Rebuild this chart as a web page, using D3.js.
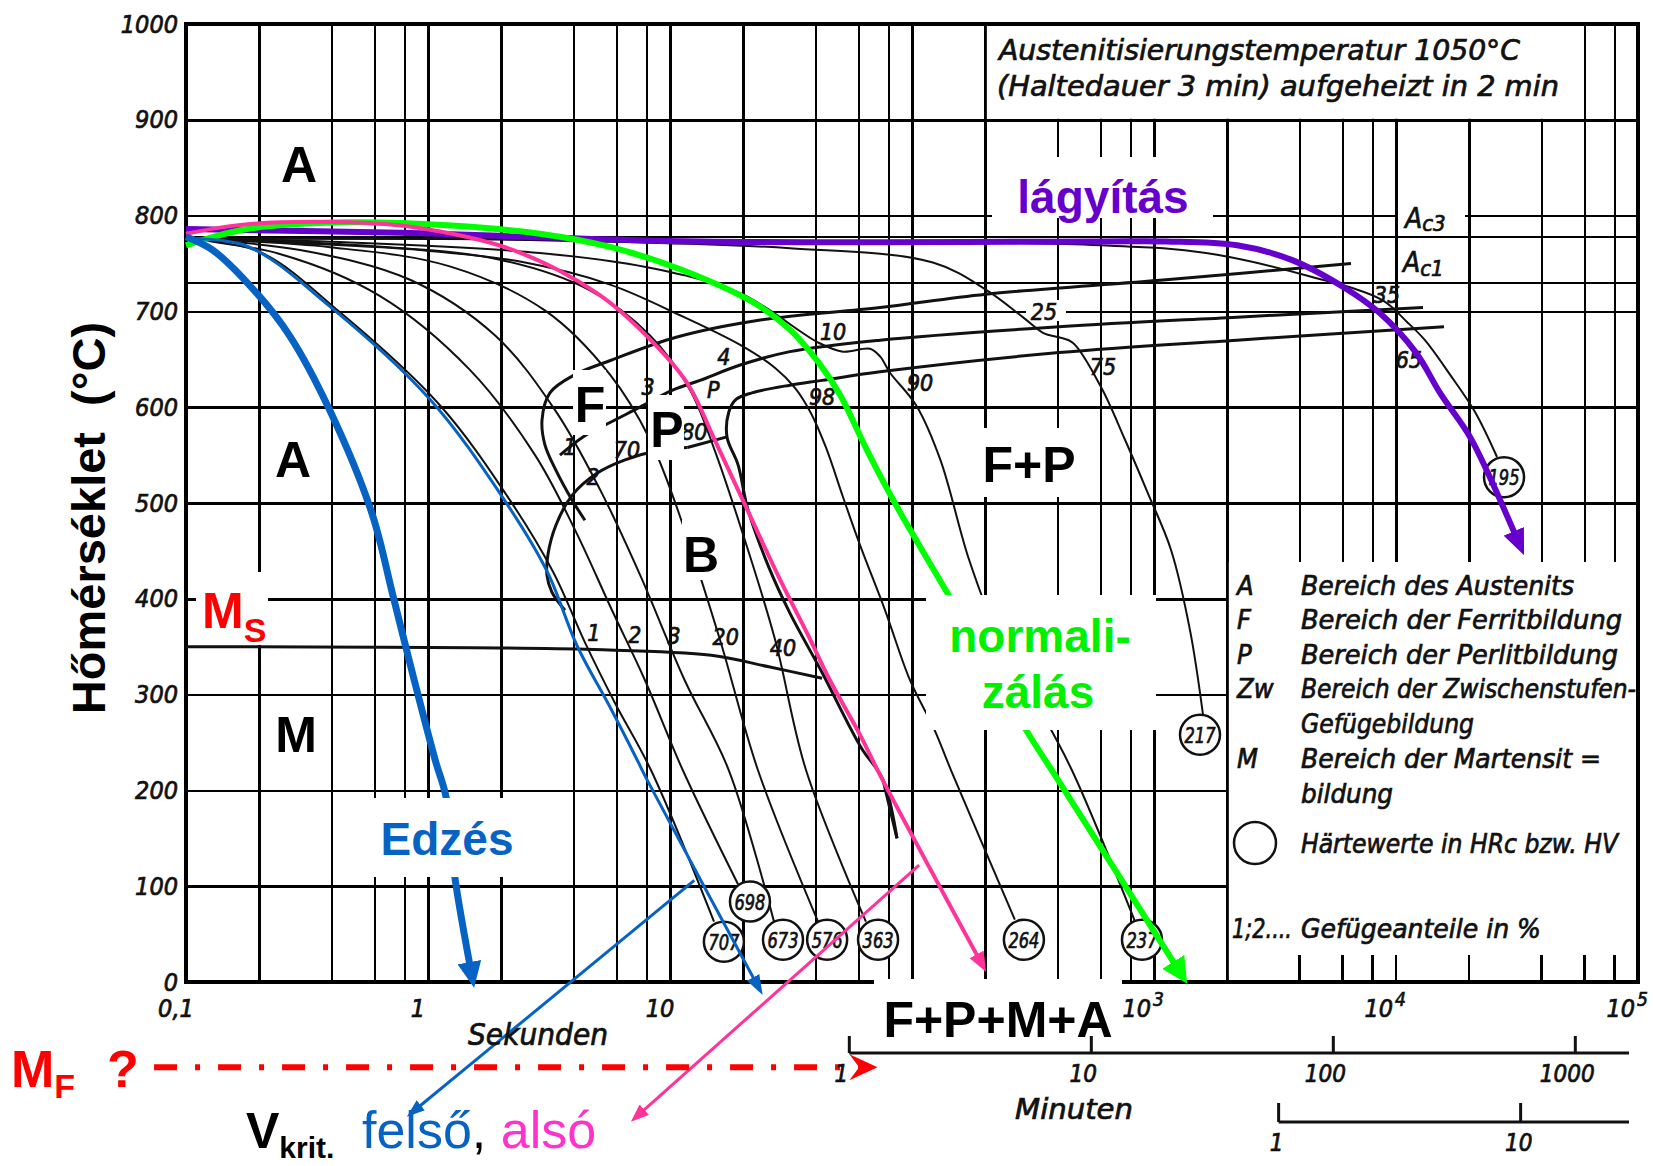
<!DOCTYPE html>
<html>
<head>
<meta charset="utf-8">
<script src="https://cdn.jsdelivr.net/npm/d3@7"></script>
<style>
  body { margin: 0; background: #fff; }
  .scan { font-family: "DejaVu Sans Condensed", "DejaVu Sans", sans-serif; font-style: italic; fill: #111; stroke: #111; stroke-width: 0.7px; }
  .big { font-family: "Liberation Sans", Arial, sans-serif; font-weight: bold; }
  .grid line { stroke: #000; stroke-width: 2.5; shape-rendering: crispEdges; }
  .cool { fill: none; stroke: #111; stroke-width: 2; }
  .trans { fill: none; stroke: #111; stroke-width: 3; }
</style>
</head>
<body>
<svg id="chart"></svg>
<script>
// ---- axis values ----
const tempTicks = [0, 100, 200, 300, 400, 500, 600, 700, 800, 900, 1000];
const tempGrid = [100, 200, 300, 400, 500, 600, 700, 730, 778, 800, 900];
const secLabels = [
  {v: 0.1, base: "0,1"}, {v: 1, base: "1"}, {v: 10, base: "10"},
  {v: 1000, base: "10", exp: "3"}, {v: 1e4, base: "10", exp: "4"}, {v: 1e5, base: "10", exp: "5"}
];
const minuteTicks = [1, 10, 100, 1000];
const hourTicks = [1, 10];

// ---- cooling curves [seconds, °C] ----
const cool707 = [[0.1,776],[0.202,762],[0.433,699],[1.12,602],[2.18,503],[3.29,428],[4.46,354],[5.93,291],[8.35,221],[15.2,63]];
const cool698 = [[0.1,776],[0.244,760],[0.634,716],[1.49,639],[2.77,550],[4.05,472],[5.76,388],[7.88,315],[11.3,221],[19.1,102]];
const cool673 = [[0.1,776],[0.296,764],[0.843,733],[1.89,675],[3.35,597],[5.14,514],[7.52,425],[11.5,315],[17.5,221],[26.9,63]];
const cool576 = [[0.1,776],[0.394,767],[1.23,747],[3.04,701],[5.65,634],[8.27,566],[11.5,472],[16.1,357],[23.1,221],[40.9,63]];
const cool363 = [[0.1,776],[0.524,769],[1.98,754],[4.67,722],[8.27,675],[12.1,618],[15.3,555],[20.4,461],[27.2,357],[36.5,221],[64.5,63]];
const cool264 = [[0.1,776],[0.296,771],[0.927,764],[2.40,752],[5.65,728],[11.0,696],[19.5,665],[27.2,641],[32.9,620],[38.2,594],[44.1,558],[51.9,506],[61.0,456],[77.4,388],[98.1,315],[124,263],[145,221],[266,65]];
const cool237 = [[0.1,776],[0.476,772],[2.90,761],[8.04,746],[19.5,719],[41.3,667],[51.9,658],[67.0,661],[73.8,653],[81.1,636],[104,602],[131,545],[172,441],[231,357],[338,284],[458,221],[835,63]];
const cool217 = [[0.1,776],[1.98,775],[31.3,766],[122,751],[204,722],[287,694],[351,677],[405,673],[463,667],[604,621],[759,566],[944,510],[1176,451],[1409,367],[1594,279]];
const cool195 = [[0.1,776],[5.14,775],[598,769],[1640,761],[4499,736],[8750,712],[11100,689],[13170,670],[16720,634],[21210,595],[26150,548]];

// ---- transformation lines ----
const ferriteStart = [[6516,750],[1122,733],[202,718],[73.8,704],[23.6,691],[10.6,673],[5.71,649],[4.05,634],[3.19,615],[2.96,587],[3.04,561],[3.38,534],[3.94,503],[4.45,482]];
const pearliteStart = [[12930,704],[2203,694],[405,684],[73.8,670],[31.3,658],[19.5,644],[13.3,628],[10.3,618],[7.52,600],[5.65,584],[4.37,569],[3.51,550]];
const pearliteEnd = [[15790,684],[2203,670],[405,657],[73.8,637],[42.5,628],[31.3,623],[21.8,615],[18.7,608],[17.5,595],[17.2,569],[19.1,540],[21.0,493],[25.6,433],[31.3,385],[42.5,323],[61.5,245],[75.9,211],[86.7,150]];
const pearliteStep = [[11.8,558],[17.2,569]];
const bainiteStart = [[11.8,558],[9.09,555],[6.52,545],[4.99,531],[3.94,508],[3.38,477],[3.13,446],[3.10,425],[3.25,407],[3.68,388]];
const bainiteStub = [[75.9,211],[86.7,150]];
const msLine = [[0.1,350],[4.85,347],[14.8,341],[25.6,329],[42.5,317]];

// ---- coloured treatment paths ----
const edzes = [[0.1,778],[0.129,764],[0.196,719],[0.269,674],[0.394,596],[0.587,489],[0.717,403],[0.867,320],[1.07,232],[1.19,192],[1.29,110],[1.53,2]];
const vkritFelso = [[0.1,776],[0.179,768],[0.394,705],[1.02,608],[2.02,507],[3.10,429],[4.13,351],[5.65,287],[7.31,232],[8.04,211],[23.5,-8]];
const vkritAlso = [[0.1,781],[0.152,789],[0.244,793],[0.476,793],[0.867,788],[2.25,764],[4.99,719],[8.04,674],[11.8,625],[15.1,569],[20.6,496],[28.5,420],[37.2,362],[45.8,315],[61.0,258],[73.8,216],[197,16]];
const normalizalas = [[0.1,769],[0.179,786],[0.463,793],[1.20,790],[2.90,781],[5.71,767],[11.3,743],[22.2,709],[31.3,681],[41.3,646],[50.4,613],[65.2,555],[86.7,496],[140,406],[296,263],[401,211],[1318,5]];
const lagyitas = [[0.1,786],[0.766,782],[13.3,773],[598,773],[1121,773],[2203,769],[3683,754],[6099,725],[8590,698],[12090,657],[15200,615],[20220,569],[24010,531],[32850,453]];
const pointerFelso = [[12.6,106],[0.851,-137]];
const pointerAlso = [[107,122],[7.16,-142]];
const mfLine = [[0.0738,-89],[66.4,-89]];

// ---- hardness values and fraction labels ----
const hardness = [
  {v:"707", t:16.7, T:42}, {v:"698", t:21.4, T:84}, {v:"673", t:29.3, T:44},
  {v:"576", t:44.6, T:44}, {v:"363", t:72.4, T:44}, {v:"264", t:290, T:44},
  {v:"237", t:892, T:44}, {v:"217", t:1549, T:258}, {v:"195", t:27950, T:527}
];
const fractionLabels = [
  {s:"1", t:3.86, T:558}, {s:"2", t:4.81, T:527}, {s:"70", t:6.64, T:555},
  {s:"3", t:8.11, T:621}, {s:"P", t:15.1, T:618}, {s:"80", t:12.6, T:574},
  {s:"4", t:16.7, T:652}, {s:"10", t:47.2, T:679}, {s:"98", t:42.5, T:611},
  {s:"90", t:108, T:625}, {s:"25", t:351, T:699}, {s:"75", t:615, T:642},
  {s:"35", t:9180, T:717}, {s:"65", t:11300, T:649},
  {s:"1", t:4.85, T:364}, {s:"2", t:7.16, T:362}, {s:"3", t:10.4, T:361},
  {s:"20", t:17.0, T:360}, {s:"40", t:29.3, T:349}
];
const legendRows = [
  ["A", "Bereich des Austenits", 273],
  ["F", "Bereich der Ferritbildung", 321],
  ["P", "Bereich der Perlitbildung", 317],
  ["Zw", "Bereich der Zwischenstufen-", 335],
  ["", "Gefügebildung", 173],
  ["M", "Bereich der Martensit =", 300],
  ["", "bildung", 92]
];

const W = 1653, H = 1166;
const svg = d3.select("#chart").attr("width", W).attr("height", H);
const x = d3.scaleLog().domain([0.1, 1e5]).range([186, 1638]);
const y = d3.scaleLinear().domain([0, 1000]).range([982, 24]);
const smooth = d3.line().x(d => x(d[0])).y(d => y(d[1])).curve(d3.curveCatmullRom.alpha(0.5));
const straight = d3.line().x(d => x(d[0])).y(d => y(d[1]));

// arrow markers
const defs = svg.append("defs");
function marker(id, color, len, wid, notch) {
  defs.append("marker").attr("id", id).attr("viewBox", "0 0 10 10")
    .attr("refX", 7).attr("refY", 5).attr("markerUnits", "userSpaceOnUse")
    .attr("markerWidth", len).attr("markerHeight", wid).attr("orient", "auto")
    .attr("preserveAspectRatio", "none")
    .append("path").attr("d", notch ? "M0,0 L10,5 L0,10 L3.5,5 z" : "M0,0 L10,5 L0,10 z").attr("fill", color);
}
marker("arBlueThick", "#0663c4", 26, 24);
marker("arBlue", "#0663c4", 20, 14);
marker("arPink", "#ff3399", 20, 16);
marker("arGreen", "#00ff00", 26, 26);
marker("arPurple", "#6600cc", 26, 22);
marker("arPtrBlue", "#0663c4", 18, 13);
marker("arPtrPink", "#ff3399", 18, 14);
marker("arRed", "#ff0000", 28, 26, true);

// grid
const gridSec = [];
[0.1, 1, 10, 100, 1000, 10000].forEach(d => [2, 4, 6, 8].forEach(m => gridSec.push(d * m)));
[1, 10, 100, 1000, 10000].forEach(d => gridSec.push(d));
svg.append("g").attr("class", "grid").attr("transform", `translate(0,${y(0)})`)
  .call(d3.axisBottom(x).tickValues(gridSec).tickSize(-(y(0) - y(1000))).tickFormat(""))
  .call(g => g.select(".domain").remove());
svg.append("g").attr("class", "grid").attr("transform", `translate(${x(0.1)},0)`)
  .call(d3.axisLeft(y).tickValues(tempGrid).tickSize(-(x(1e5) - x(0.1))).tickFormat(""))
  .call(g => g.select(".domain").remove());

// white areas for info box, legend and small gridline labels
const bg = svg.append("g").attr("fill", "#fff");
bg.append("rect").attr("x", x(200) + 2).attr("y", y(1000) + 2).attr("width", x(60000) - x(200) - 4).attr("height", y(900) - y(1000) - 3);
bg.append("rect").attr("x", x(2000) + 2).attr("y", 562).attr("width", x(1e5) - x(2000) - 4).attr("height", y(0) - 562 - 1);
bg.append("rect").attr("x", 1398).attr("y", 200).attr("width", 67).attr("height", 32);
bg.append("rect").attr("x", 1026).attr("y", 300).attr("width", 40).attr("height", 21);

// short ticks at bottom of legend box
const stubs = svg.append("g").attr("stroke", "#000").attr("stroke-width", 2.5).attr("shape-rendering", "crispEdges");
[4000, 6000, 8000, 10000, 20000, 40000, 60000, 80000].forEach(v => {
  stubs.append("line").attr("x1", x(v)).attr("x2", x(v)).attr("y1", 955).attr("y2", y(0));
});

// frame
svg.append("rect").attr("x", x(0.1)).attr("y", y(1000)).attr("width", x(1e5) - x(0.1))
  .attr("height", y(0) - y(1000)).attr("fill", "none").attr("stroke", "#000").attr("stroke-width", 3.5)
  .attr("shape-rendering", "crispEdges");

// black cooling curves
const cg = svg.append("g");
[cool707, cool698, cool673, cool576, cool363, cool264, cool237, cool217, cool195].forEach(c => {
  cg.append("path").attr("class", "cool").attr("d", smooth(c));
});
[ferriteStart, pearliteStart, pearliteEnd, bainiteStart, msLine].forEach(c => {
  cg.append("path").attr("class", "trans").attr("d", smooth(c));
});
cg.append("path").attr("class", "trans").attr("d", straight(pearliteStep));
cg.append("path").attr("class", "trans").attr("stroke-width", 5).attr("d", straight(bainiteStub));

// fraction labels
svg.append("g").selectAll("text").data(fractionLabels).join("text")
  .attr("class", "scan").attr("x", d => x(d.t)).attr("y", d => y(d.T))
  .attr("text-anchor", "middle").attr("dominant-baseline", "central")
  .style("font-size", "23px").text(d => d.s);

// Ac labels
const ac = svg.append("g");
ac.append("text").attr("class", "scan").attr("x", 1405).attr("y", 228).style("font-size", "28px")
  .text("A").append("tspan").style("font-size", "22px").attr("dy", 3).text("c3");
ac.append("text").attr("class", "scan").attr("x", 1403).attr("y", 272).style("font-size", "28px")
  .text("A").append("tspan").style("font-size", "22px").attr("dy", 4).text("c1");

// hardness circles
const hg = svg.append("g").selectAll("g").data(hardness).join("g")
  .attr("transform", d => `translate(${x(d.t)},${y(d.T)})`);
hg.append("circle").attr("r", 20).attr("fill", "#fff").attr("stroke", "#111").attr("stroke-width", 2.5);
hg.append("text").attr("class", "scan").attr("text-anchor", "middle").attr("dy", 8)
  .attr("textLength", 31).attr("lengthAdjust", "spacingAndGlyphs").style("font-size", "22px").text(d => d.v);

// coloured paths
const col = svg.append("g").attr("fill", "none");
col.append("path").attr("d", smooth(lagyitas)).attr("stroke", "#6600cc").attr("stroke-width", 6).attr("marker-end", "url(#arPurple)");
col.append("path").attr("d", smooth(normalizalas)).attr("stroke", "#00ff00").attr("stroke-width", 6).attr("marker-end", "url(#arGreen)");
col.append("path").attr("d", smooth(vkritAlso)).attr("stroke", "#ff3399").attr("stroke-width", 4).attr("marker-end", "url(#arPink)");
col.append("path").attr("d", smooth(vkritFelso)).attr("stroke", "#0663c4").attr("stroke-width", 3).attr("marker-end", "url(#arBlue)");
col.append("path").attr("d", smooth(edzes)).attr("stroke", "#0663c4").attr("stroke-width", 7).attr("marker-end", "url(#arBlueThick)");
col.append("path").attr("d", straight(pointerFelso)).attr("stroke", "#0663c4").attr("stroke-width", 3).attr("marker-end", "url(#arPtrBlue)");
col.append("path").attr("d", straight(pointerAlso)).attr("stroke", "#ff3399").attr("stroke-width", 3).attr("marker-end", "url(#arPtrPink)");
col.append("path").attr("d", straight(mfLine)).attr("stroke", "#ff0000").attr("stroke-width", 6)
  .attr("stroke-dasharray", "23,18,5,18").attr("marker-end", "url(#arRed)");

// white label boxes
const boxes = [[196,572,72,73],[573,370,33,65],[648,395,36,65],[682,520,38,60],[975,428,110,69],
  [926,595,230,135],[370,798,155,79],[992,157,221,61],[874,979,248,66]];
svg.append("g").selectAll("rect").data(boxes).join("rect")
  .attr("x", d => d[0]).attr("y", d => d[1]).attr("width", d => d[2]).attr("height", d => d[3]).attr("fill", "#fff");

// axis tick labels
svg.append("g").attr("transform", `translate(${x(0.1)},0)`)
  .call(d3.axisLeft(y).tickValues(tempTicks).tickSize(0).tickPadding(8).tickFormat(d3.format("d")))
  .call(g => g.select(".domain").remove())
  .selectAll("text").attr("class", "scan").style("font-size", "25px");
const xl = svg.append("g");
secLabels.forEach(d => {
  if (d.exp) {
    xl.append("text").attr("class", "scan").attr("x", x(d.v) - 3).attr("y", 1017)
      .attr("text-anchor", "end").style("font-size", "25px").text(d.base);
    xl.append("text").attr("class", "scan").attr("x", x(d.v) - 1).attr("y", 1006)
      .style("font-size", "19px").text(d.exp);
  } else {
    xl.append("text").attr("class", "scan").attr("x", x(d.v) - 10).attr("y", 1017)
      .attr("text-anchor", "middle").style("font-size", "25px").text(d.base);
  }
});
xl.append("text").attr("class", "scan").attr("x", 468).attr("y", 1045).style("font-size", "30px")
  .attr("textLength", 140).attr("lengthAdjust", "spacingAndGlyphs").text("Sekunden");

// minutes and hours scales
const mg = svg.append("g").attr("transform", "translate(-9,0)");
mg.append("line").attr("x1", x(60)).attr("x2", 1638).attr("y1", 1053).attr("y2", 1053).attr("stroke", "#111").attr("stroke-width", 3);
minuteTicks.forEach(m => {
  mg.append("line").attr("x1", x(m * 60)).attr("x2", x(m * 60)).attr("y1", 1036).attr("y2", 1053).attr("stroke", "#111").attr("stroke-width", 3);
  mg.append("text").attr("class", "scan").attr("x", x(m * 60) - 8).attr("y", 1082)
    .attr("text-anchor", "middle").style("font-size", "24px").text(m);
});
mg.append("text").attr("class", "scan").attr("x", 1024).attr("y", 1119).style("font-size", "28px")
  .attr("textLength", 118).attr("lengthAdjust", "spacingAndGlyphs").text("Minuten");
const hgp = svg.append("g").attr("transform", "translate(-10,0)");
hgp.append("line").attr("x1", x(3600)).attr("x2", 1639).attr("y1", 1122).attr("y2", 1122).attr("stroke", "#111").attr("stroke-width", 3);
hourTicks.forEach(h => {
  hgp.append("line").attr("x1", x(h * 3600)).attr("x2", x(h * 3600)).attr("y1", 1103).attr("y2", 1122).attr("stroke", "#111").attr("stroke-width", 3);
  hgp.append("text").attr("class", "scan").attr("x", x(h * 3600) - 2).attr("y", 1151)
    .attr("text-anchor", "middle").style("font-size", "24px").text(h);
});

// info box text
svg.append("text").attr("class", "scan").attr("x", 999).attr("y", 60).style("font-size", "29px")
  .attr("textLength", 521).attr("lengthAdjust", "spacingAndGlyphs").text("Austenitisierungstemperatur 1050°C");
svg.append("text").attr("class", "scan").attr("x", 997).attr("y", 96).style("font-size", "29px")
  .attr("textLength", 562).attr("lengthAdjust", "spacingAndGlyphs").text("(Haltedauer 3 min)  aufgeheizt in 2 min");

// legend
const lg = svg.append("g");
const legendY = [595, 629, 664, 698, 733, 768, 803];
legendRows.forEach((r, i) => {
  if (r[0]) lg.append("text").attr("class", "scan").attr("x", 1237).attr("y", legendY[i]).style("font-size", "27px").text(r[0]);
  lg.append("text").attr("class", "scan").attr("x", 1301).attr("y", legendY[i]).style("font-size", "27px")
    .attr("textLength", r[2]).attr("lengthAdjust", "spacingAndGlyphs").text(r[1]);
});
lg.append("circle").attr("cx", 1255).attr("cy", 843).attr("r", 21).attr("fill", "none").attr("stroke", "#111").attr("stroke-width", 2.5);
lg.append("text").attr("class", "scan").attr("x", 1301).attr("y", 853).style("font-size", "27px")
  .attr("textLength", 317).attr("lengthAdjust", "spacingAndGlyphs").text("Härtewerte in HRc bzw. HV");
lg.append("text").attr("class", "scan").attr("x", 1232).attr("y", 938).style("font-size", "27px")
  .attr("textLength", 60).attr("lengthAdjust", "spacingAndGlyphs").text("1;2....");
lg.append("text").attr("class", "scan").attr("x", 1301).attr("y", 938).style("font-size", "27px")
  .attr("textLength", 240).attr("lengthAdjust", "spacingAndGlyphs").text("Gefügeanteile in %");

// big annotations
const ann = svg.append("g");
function big(s, px, py, size, color, anchor) {
  return ann.append("text").attr("class", "big").attr("x", px).attr("y", py)
    .attr("text-anchor", anchor || "middle").style("font-size", size + "px").attr("fill", color || "#000").text(s);
}
big("A", 299, 182, 50);
big("A", 293, 477, 50);
big("M", 296, 752, 50);
big("F", 590, 422, 50);
big("P", 667, 447, 50);
big("B", 701, 572, 50);
big("F+P", 1029, 482, 50);
big("F+P+M+A", 998, 1037, 50);
big("lágyítás", 1103, 213, 46, "#6600cc");
big("normali-", 1040, 652, 46, "#00f000");
big("zálás", 1038, 708, 46, "#00f000");
big("Edzés", 447, 855, 46, "#0663c4");
const ms = big("M", 202, 628, 50, "#ff0000", "start");
ms.append("tspan").attr("dy", 14).style("font-size", "34px").text("S");
const mf = big("M", 11, 1087, 52, "#ff0000", "start");
mf.append("tspan").attr("dy", 11).style("font-size", "34px").text("F");
big("?", 107, 1087, 52, "#ff0000", "start");
const vk = big("V", 246, 1148, 50, "#000", "start");
vk.append("tspan").attr("dy", 10).style("font-size", "30px").text("krit.");
const fa = ann.append("text").attr("x", 362).attr("y", 1148).style("font-size", "52px")
  .style("font-family", "'Liberation Sans', Arial, sans-serif").style("font-weight", "normal");
fa.append("tspan").attr("fill", "#0663c4").text("felső");
fa.append("tspan").attr("fill", "#000").text(", ");
fa.append("tspan").attr("fill", "#ff33cc").text("alsó");

// y-axis title
svg.append("text").attr("class", "big").attr("transform", "translate(105,518) rotate(-90)")
  .attr("text-anchor", "middle").style("font-size", "47px").style("white-space", "pre")
  .text("Hőmérséklet  (°C)");
</script>
</body>
</html>
